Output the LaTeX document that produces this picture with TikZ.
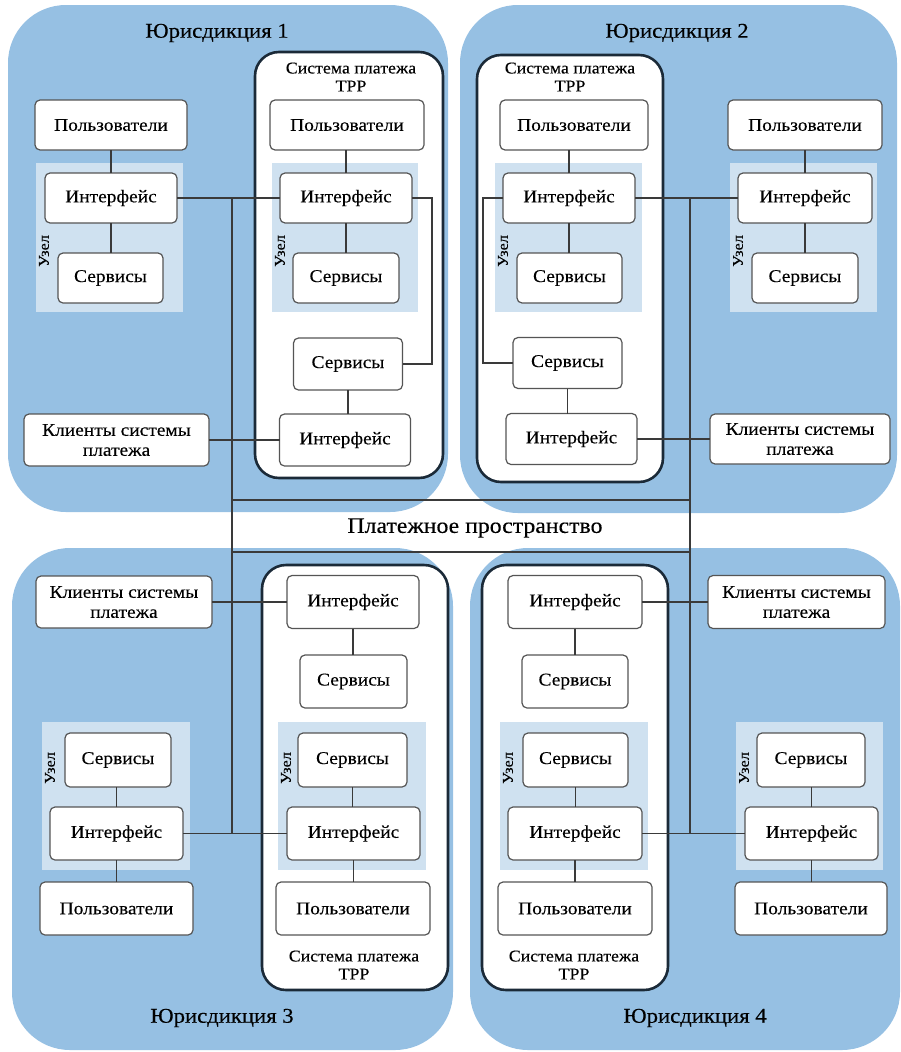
\documentclass[tikz,border=0pt]{standalone}
\usepackage{fontspec}
\setmainfont{Liberation Serif}[FakeStretch=1.08,FakeBold=0.25]
\definecolor{jblue}{HTML}{96C0E3}
\definecolor{lblue}{HTML}{CFE1F0}
\definecolor{tppc}{HTML}{1B2A38}
\definecolor{boxc}{HTML}{555555}
\definecolor{linec}{HTML}{3A3A3A}
\begin{document}
\begin{tikzpicture}[x=1pt,y=-1pt,
  jur/.style={fill=jblue},
  area/.style={fill=lblue},
  tpp/.style={draw=tppc, line width=2.6pt, fill=white, rounded corners=24pt, inner sep=0pt, outer sep=0pt},
  box/.style={draw=boxc, line width=1.2pt, fill=white, rounded corners=5pt, font=\fontsize{18}{20}\selectfont, align=center, inner sep=0pt, outer sep=0pt},
  conn/.style={draw=linec, line width=1.3pt},
  ttl/.style={font=\fontsize{21}{24}\selectfont},
  payt/.style={font=\fontsize{22}{24}\selectfont},
  tppt/.style={font=\fontsize{16.5}{18}\selectfont, align=center},
  uzel/.style={rotate=90, font=\fontsize{15}{16}\selectfont}]
\useasboundingbox (0,0) rectangle (901,1052);
% jurisdictions
\fill[jur, rounded corners=58pt] (8,5) rectangle (448,512);
\fill[jur, rounded corners=58pt] (460,5) rectangle (897,513);
\fill[jur, rounded corners=58pt] (12,548) rectangle (453,1050);
\fill[jur, rounded corners=58pt] (470,548) rectangle (900,1050);
\node[ttl] (j1) at (217,33) {Юрисдикция 1};
\node[ttl] (j2) at (677,33) {Юрисдикция 2};
\node[ttl] (j3) at (222,1018) {Юрисдикция 3};
\node[ttl] (j4) at (695,1018) {Юрисдикция 4};
% TPP systems
\node[tpp, minimum width=188pt, minimum height=426pt] (T1) at (349,265) {};
\node[tpp, minimum width=186pt, minimum height=427pt] (T2) at (570,268.5) {};
\node[tpp, minimum width=186pt, minimum height=425pt] (T3) at (355,777.5) {};
\node[tpp, minimum width=186pt, minimum height=425pt] (T4) at (575,777.5) {};
\node[tppt] (t1) at (351,77) {Система платежа\\ТРР};
\node[tppt] (t2) at (570,77) {Система платежа\\ТРР};
\node[tppt] (t3) at (354,965) {Система платежа\\ТРР};
\node[tppt] (t4) at (574,965) {Система платежа\\ТРР};
% node areas
\fill[area] (36,163) rectangle (183,312);
\fill[area] (272,163) rectangle (418,312);
\fill[area] (495,163) rectangle (642,312);
\fill[area] (730,163) rectangle (877,312);
\fill[area] (42,722) rectangle (190,870);
\fill[area] (278,722) rectangle (426,870);
\fill[area] (500,722) rectangle (648,870);
\fill[area] (736,722) rectangle (883,870);
\node[uzel] (z1) at (44,251) {Узел};
\node[uzel] (z2) at (280,251) {Узел};
\node[uzel] (z3) at (503,251) {Узел};
\node[uzel] (z4) at (738,251) {Узел};
\node[uzel] (z5) at (50,768) {Узел};
\node[uzel] (z6) at (286,768) {Узел};
\node[uzel] (z7) at (508,768) {Узел};
\node[uzel] (z8) at (744,768) {Узел};
% bus and payment space
\coordinate (bL1) at (232,198);
\coordinate (bL2) at (232,833);
\coordinate (bR1) at (690,198);
\coordinate (bR2) at (690,833);
\coordinate (pL1) at (232,500);
\coordinate (pR1) at (690,500);
\coordinate (pL2) at (232,552);
\coordinate (pR2) at (690,552);
\draw[conn] (bL1) -- (bL2);
\draw[conn] (bR1) -- (bR2);
\draw[conn] (pL1) -- (pR1);
\draw[conn] (pL2) -- (pR2);
\node[payt] (pay) at (475,528) {Платежное пространство};
% J1 boxes
\node[box, minimum width=152pt, minimum height=50pt] (u1) at (111,125) {Пользователи};
\node[box, minimum width=132pt, minimum height=50pt] (i1) at (111,198) {Интерфейс};
\node[box, minimum width=105pt, minimum height=50pt] (s1) at (110.5,278) {Сервисы};
\node[box, minimum width=154pt, minimum height=50pt] (tu1) at (347,125) {Пользователи};
\node[box, minimum width=132pt, minimum height=50pt] (ti1) at (346,198) {Интерфейс};
\node[box, minimum width=106pt, minimum height=50pt] (ts1) at (346,278) {Сервисы};
\node[box, minimum width=109pt, minimum height=52pt] (ts1b) at (348,364) {Сервисы};
\node[box, minimum width=131pt, minimum height=52pt] (ti1b) at (345,440) {Интерфейс};
\node[box, minimum width=185pt, minimum height=52pt] (c1) at (116.5,440) {Клиенты системы\\платежа};
% J2 boxes
\node[box, minimum width=148pt, minimum height=50pt] (tu2) at (574,125) {Пользователи};
\node[box, minimum width=132pt, minimum height=50pt] (ti2) at (569,198) {Интерфейс};
\node[box, minimum width=105pt, minimum height=50pt] (ts2) at (569.5,278) {Сервисы};
\node[box, minimum width=109pt, minimum height=51pt] (ts2b) at (567.5,363) {Сервисы};
\node[box, minimum width=131pt, minimum height=51pt] (ti2b) at (571.5,439) {Интерфейс};
\node[box, minimum width=180pt, minimum height=50pt] (c2) at (800,439) {Клиенты системы\\платежа};
\node[box, minimum width=154pt, minimum height=50pt] (u2) at (805,125) {Пользователи};
\node[box, minimum width=134pt, minimum height=50pt] (i2) at (805,198) {Интерфейс};
\node[box, minimum width=106pt, minimum height=50pt] (s2) at (805,278) {Сервисы};
% J3 boxes
\node[box, minimum width=176pt, minimum height=52pt] (c3) at (124,602) {Клиенты системы\\платежа};
\node[box, minimum width=132pt, minimum height=53pt] (ti3) at (353,602) {Интерфейс};
\node[box, minimum width=107pt, minimum height=53pt] (ts3) at (353.5,681.5) {Сервисы};
\node[box, minimum width=109pt, minimum height=54pt] (ts3b) at (352.5,760) {Сервисы};
\node[box, minimum width=133pt, minimum height=53pt] (ti3b) at (353.5,833.5) {Интерфейс};
\node[box, minimum width=154pt, minimum height=53pt] (tu3) at (353,908.5) {Пользователи};
\node[box, minimum width=106pt, minimum height=54pt] (s3) at (118,760) {Сервисы};
\node[box, minimum width=133pt, minimum height=53pt] (i3) at (116.5,833.5) {Интерфейс};
\node[box, minimum width=153pt, minimum height=53pt] (u3) at (116.5,908.5) {Пользователи};
% J4 boxes
\node[box, minimum width=134pt, minimum height=53pt] (ti4) at (575,602) {Интерфейс};
\node[box, minimum width=177pt, minimum height=53pt] (c4) at (796.5,602) {Клиенты системы\\платежа};
\node[box, minimum width=106pt, minimum height=53pt] (ts4) at (575,681.5) {Сервисы};
\node[box, minimum width=105pt, minimum height=54pt] (ts4b) at (575.5,760) {Сервисы};
\node[box, minimum width=134pt, minimum height=53pt] (ti4b) at (575,833.5) {Интерфейс};
\node[box, minimum width=154pt, minimum height=53pt] (tu4) at (575,908.5) {Пользователи};
\node[box, minimum width=108pt, minimum height=54pt] (s4) at (811,760) {Сервисы};
\node[box, minimum width=133pt, minimum height=53pt] (i4) at (811.5,833.5) {Интерфейс};
\node[box, minimum width=152pt, minimum height=53pt] (u4) at (811,908.5) {Пользователи};
% connectors (vertical ones kept straight)
\draw[conn] (i1.north) -- (i1.north |- u1.south);
\draw[conn] (i1.south) -- (i1.south |- s1.north);
\draw[conn] (i1.east) -- (ti1.west);
\draw[conn] (ti1.north) -- (ti1.north |- tu1.south);
\draw[conn] (ti1.south) -- (ti1.south |- ts1.north);
\draw[conn] (ti1.east) -- ++(20,0) |- (ts1b.east);
\draw[conn] (ts1b.south) -- (ts1b.south |- ti1b.north);
\draw[conn] (c1.east) -- (ti1b.west);
\draw[conn] (ti2.north) -- (ti2.north |- tu2.south);
\draw[conn] (ti2.south) -- (ti2.south |- ts2.north);
\draw[conn] (ti2.west) -- ++(-20,0) |- (ts2b.west);
\draw[conn] (ts2b.south) -- (ts2b.south |- ti2b.north);
\draw[conn] (ti2b.east) -- (c2.west);
\draw[conn] (ti2.east) -- (i2.west);
\draw[conn] (i2.north) -- (i2.north |- u2.south);
\draw[conn] (i2.south) -- (i2.south |- s2.north);
\draw[conn] (c3.east) -- (ti3.west);
\draw[conn] (ti3.south) -- (ti3.south |- ts3.north);
\draw[conn] (ts3b.south) -- (ts3b.south |- ti3b.north);
\draw[conn] (ti3b.south) -- (ti3b.south |- tu3.north);
\draw[conn] (i3.east) -- (ti3b.west);
\draw[conn] (i3.north) -- (i3.north |- s3.south);
\draw[conn] (i3.south) -- (i3.south |- u3.north);
\draw[conn] (ti4.east) -- (c4.west);
\draw[conn] (ti4.south) -- (ti4.south |- ts4.north);
\draw[conn] (ts4b.south) -- (ts4b.south |- ti4b.north);
\draw[conn] (ti4b.south) -- (ti4b.south |- tu4.north);
\draw[conn] (ti4b.east) -- (i4.west);
\draw[conn] (i4.north) -- (i4.north |- s4.south);
\draw[conn] (i4.south) -- (i4.south |- u4.north);
\end{tikzpicture}
\end{document}
